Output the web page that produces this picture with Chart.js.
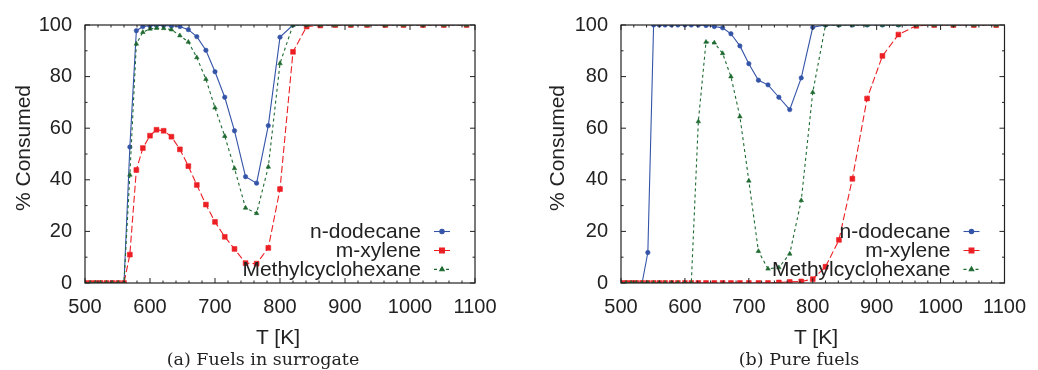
<!DOCTYPE html>
<html>
<head>
<meta charset="utf-8">
<script src="https://cdn.jsdelivr.net/npm/chart.js@4.4.0/dist/chart.umd.min.js"></script>
<style>
    body { margin: 0; background: #fff; width: 1038px; height: 370px; position: relative; overflow: hidden;
           font-family: "Liberation Sans", Arial, sans-serif; color: #222; }
    .panel { position: absolute; top: 0; width: 519px; height: 370px; }
    .panel canvas { position: absolute; left: 0; top: 0; }
    .ytitle, .xtitle { position: absolute; font-size: 21px; text-align: center; height: 24px; line-height: 24px; white-space: nowrap; }
    .ytitle { width: 200px; transform: rotate(-90deg); }
    .xtitle { width: 100px; }
    .caption { position: absolute; font-family: "DejaVu Serif", serif; font-size: 17.5px; text-align: center;
               width: 300px; height: 20px; line-height: 20px; white-space: nowrap; }
</style>
</head>
<body>
<div class="panel" style="left:0">
    <canvas id="chartSurrogate" width="519" height="370"></canvas>
</div>
<div class="panel" style="left:519px">
    <canvas id="chartPure" width="519" height="370"></canvas>
</div>
<div class="ytitle" style="left:-77px;top:136px">% Consumed</div>
<div class="ytitle" style="left:457px;top:136px">% Consumed</div>
<div class="xtitle" style="left:228px;top:325px">T [K]</div>
<div class="xtitle" style="left:766px;top:325px">T [K]</div>
<div class="caption" style="left:113px;top:349px">(a) Fuels in surrogate</div>
<div class="caption" style="left:649px;top:349px">(b) Pure fuels</div>

<script>
// temperatures of the reactor points (K), shared by both panels
const temperatures = [500, 508, 516, 524, 533, 542, 551, 560, 569, 579, 589, 600, 610, 621, 633, 646, 659, 672, 686,
    700, 715, 730, 747, 764, 782, 800, 820, 841, 862, 885, 909, 934, 962, 990, 1020, 1052, 1087];

const seriesNames = ['n-dodecane', 'm-xylene', 'Methylcyclohexane'];

// (a) fuels in surrogate
const surrogateDodecane = [0, 0, 0, 0, 0, 0, 0, 0, 52.7, 97.8, 99.4, 99.7, 99.8, 99.8, 99.6, 99.4, 98.2, 95.5, 90.2,
    81.9, 72, 59, 41.2, 38.7, 61, 95.3, 100, 100, 100, 100, 100, 100, 100, 100, 100, 100, 100];
const surrogateXylene = [0, 0, 0, 0, 0, 0, 0, 0, 11, 43.8, 52.3, 57.1, 59.4, 59, 56.7, 51.8, 45.3, 38, 30.4,
    23.7, 17.9, 13.2, 7.7, 7.5, 13.6, 36.4, 89.6, 99.4, 99.8, 100, 100, 100, 100, 100, 100, 100, 100];
const surrogateMch = [0, 0, 0, 0, 0, 0, 0, 0, 41.9, 92.7, 97.2, 98.5, 98.8, 98.7, 98.2, 95.9, 93.4, 87.4, 79,
    67.9, 56.9, 44.4, 29.1, 27, 45, 85.1, 100, 100, 100, 100, 100, 100, 100, 100, 100, 100, 100];

// (b) pure fuels
const pureDodecane = [0, 0, 0, 0, 0, 11.8, 100, 100, 100, 100, 100, 100, 100, 100, 99.8, 99.4, 98.9, 96.6, 91.9,
    85, 78.6, 76.8, 72, 67.2, 79.5, 99.1, 100, 100, 100, 100, 100, 100, 100, 100, 100, 100, 100];
const pureXylene = [0, 0, 0, 0, 0, 0, 0, 0, 0, 0, 0, 0, 0, 0, 0, 0, 0, 0, 0,
    0, 0, 0, 0.2, 0.4, 0.6, 1.5, 6.3, 16.7, 40.4, 71.5, 88, 96.3, 99.7, 100, 100, 100, 100];
const pureMch = [0, 0, 0, 0, 0, 0, 0, 0, 0, 0, 0, 0, 0, 62.6, 93.4, 93.1, 89, 80, 64.5,
    39.6, 12.3, 5.5, 6, 11.3, 32, 73.9, 100, 100, 100, 100, 100, 100, 100, 100, 100, 100, 100];

const xTickValues = [500, 600, 700, 800, 900, 1000, 1100];
const yTickValues = [0, 20, 40, 60, 80, 100];

const fontFamily = '"Liberation Sans", Arial, sans-serif';
const textColor = '#222';

const seriesStyles = [
    { color: '#3454a8', dash: [], pointStyle: 'circle', radius: 2.2, order: 3 },
    { color: '#ec1f24', dash: [7, 3], pointStyle: 'rect', radius: 3.4, order: 2 },
    { color: '#1e6a30', dash: [3, 3], pointStyle: 'triangle', radius: 2.6, order: 1 }
];

function toPoints(values) {
    return values.map((v, i) => ({ x: temperatures[i], y: v }));
}

// box with inward ticks on all four sides, like gnuplot
const frameTicksPlugin = {
    id: 'frameTicks',
    afterDraw(chart) {
        const ctx = chart.ctx;
        const a = chart.chartArea;
        const xs = chart.scales.x, ys = chart.scales.y;
        ctx.save();
        ctx.strokeStyle = '#222';
        ctx.lineWidth = 1.2;
        ctx.strokeRect(a.left, a.top, a.right - a.left, a.bottom - a.top);
        ctx.lineWidth = 1;
        ctx.beginPath();
        for (let t = 500; t <= 1100; t += 20) {
            let px = xs.getPixelForValue(t);
            let len = (t % 100 === 0) ? 5 : 2.5;
            ctx.moveTo(px, a.bottom); ctx.lineTo(px, a.bottom - len);
            ctx.moveTo(px, a.top); ctx.lineTo(px, a.top + len);
        }
        for (let v = 0; v <= 100; v += 10) {
            let py = ys.getPixelForValue(v);
            let len = (v % 20 === 0) ? 5 : 2.5;
            ctx.moveTo(a.left, py); ctx.lineTo(a.left + len, py);
            ctx.moveTo(a.right, py); ctx.lineTo(a.right - len, py);
        }
        ctx.stroke();
        ctx.restore();
    }
};

// legend inside the bottom-right corner, text right aligned with the sample after it
const insideLegendPlugin = {
    id: 'insideLegend',
    afterDraw(chart) {
        const ctx = chart.ctx;
        const a = chart.chartArea;
        const rowOffsets = [51.5, 32.5, 13.6];
        ctx.save();
        ctx.font = '21px ' + fontFamily;
        ctx.textAlign = 'right';
        ctx.textBaseline = 'alphabetic';
        chart.data.datasets.forEach((ds, i) => {
            let y = a.bottom - rowOffsets[i];
            ctx.fillStyle = textColor;
            ctx.fillText(ds.label, a.right - 54, y + 6.5);
            ctx.strokeStyle = ds.borderColor;
            ctx.lineWidth = 1.1;
            ctx.setLineDash(ds.borderDash);
            ctx.beginPath();
            ctx.moveTo(a.right - 41, y);
            ctx.lineTo(a.right - 25, y);
            ctx.stroke();
            ctx.setLineDash([]);
            ctx.fillStyle = ds.pointBackgroundColor;
            ctx.strokeStyle = ds.pointBorderColor;
            Chart.helpers.drawPoint(ctx, {
                pointStyle: ds.pointStyle, radius: ds.pointRadius, rotation: 0, borderWidth: ds.pointBorderWidth
            }, a.right - 33, y);
        });
        ctx.restore();
    }
};

function makeChart(canvasId, seriesValues, yAxisWidth, rightPadding) {
    const datasets = seriesValues.map((values, i) => {
        let s = seriesStyles[i];
        return {
            label: seriesNames[i],
            data: toPoints(values),
            showLine: true,
            borderColor: s.color,
            borderWidth: 1.1,
            borderDash: s.dash,
            pointStyle: s.pointStyle,
            pointRadius: s.radius,
            pointBackgroundColor: s.color,
            pointBorderColor: s.color,
            pointBorderWidth: 0.6,
            order: s.order,
            tension: 0
        };
    });

    const tickFont = { family: fontFamily, size: 20 };

    return new Chart(document.getElementById(canvasId), {
        type: 'scatter',
        data: { datasets: datasets },
        options: {
            responsive: false,
            animation: false,
            layout: { padding: { top: 21, right: rightPadding, left: 0, bottom: 0 } },
            plugins: { legend: { display: false }, tooltip: { enabled: false } },
            scales: {
                x: {
                    type: 'linear',
                    min: 500,
                    max: 1100,
                    afterBuildTicks(scale) { scale.ticks = xTickValues.map(v => ({ value: v })); },
                    ticks: {
                        font: tickFont, color: textColor, padding: 12, maxRotation: 0, autoSkip: false,
                        callback: v => String(v)
                    },
                    grid: { display: false, drawTicks: false },
                    border: { display: false },
                    afterFit(scale) { scale.height = 370 - 283; }
                },
                y: {
                    min: 0,
                    max: 100,
                    afterBuildTicks(scale) { scale.ticks = yTickValues.map(v => ({ value: v })); },
                    ticks: { font: tickFont, color: textColor, padding: 13, callback: v => String(v) },
                    grid: { display: false, drawTicks: false },
                    border: { display: false },
                    afterFit(scale) { scale.width = yAxisWidth; }
                }
            }
        },
        plugins: [frameTicksPlugin, insideLegendPlugin]
    });
}

makeChart('chartSurrogate', [surrogateDodecane, surrogateXylene, surrogateMch], 85, 44);
makeChart('chartPure', [pureDodecane, pureXylene, pureMch], 102, 27);
</script>
</body>
</html>
